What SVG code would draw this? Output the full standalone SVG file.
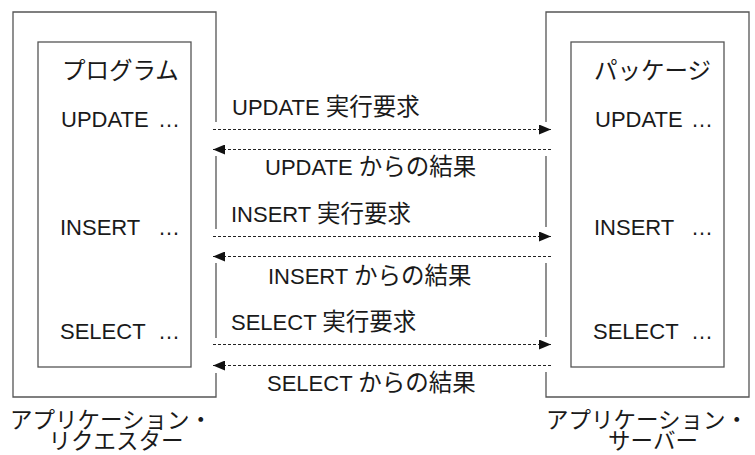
<svg xmlns="http://www.w3.org/2000/svg" width="755" height="455" viewBox="0 0 755 455">
<style>
.box{fill:none;stroke:#555;stroke-width:1.3}
.t{font-family:"Liberation Sans","Noto Sans CJK JP",sans-serif;font-size:22px;fill:#1a1a1a}
.j{font-family:"Noto Sans CJK JP",sans-serif;font-size:23.5px}
.b{font-family:"Noto Sans CJK JP",sans-serif;font-size:22.5px;fill:#1a1a1a}
.c{stroke:#222;stroke-width:1;stroke-dasharray:3 2;fill:none}
</style>
<defs>
<marker id="ah" viewBox="0 0 12 10" refX="12" refY="5" markerWidth="12" markerHeight="10" markerUnits="userSpaceOnUse" orient="auto">
<path d="M0,0 L12,5 L0,10 Z" fill="#111"/>
</marker>
</defs>
<rect width="755" height="455" fill="#fff"/>

<g id="requester">
<path class="box" d="M216,122 V12 H13 V397 H216 V373 M216,338 V263 M216,229 V156"/>
<text class="b" x="10" y="428">アプリケーション・</text>
<text class="b" x="116" y="449" text-anchor="middle">リクエスター</text>
</g>

<g id="program">
<rect class="box" x="38" y="42" width="153" height="325"/>
<text class="t j" x="62" y="79">プログラム</text>
<text class="t" x="61" y="127">UPDATE<tspan x="158">…</tspan></text>
<text class="t" x="60" y="235">INSERT<tspan x="158">…</tspan></text>
<text class="t" x="60" y="339">SELECT<tspan x="158">…</tspan></text>
</g>

<g id="server">
<path class="box" d="M546,122 V12 H749 V397 H546 V372 M546,337 V263 M546,227 V156"/>
<text class="b" x="546" y="428">アプリケーション・</text>
<text class="b" x="653" y="449" text-anchor="middle">サーバー</text>
</g>

<g id="package">
<rect class="box" x="571" y="42" width="153" height="325"/>
<text class="t j" x="594" y="79">パッケージ</text>
<text class="t" x="595" y="127">UPDATE<tspan x="691">…</tspan></text>
<text class="t" x="594" y="235">INSERT<tspan x="691">…</tspan></text>
<text class="t" x="593" y="339">SELECT<tspan x="691">…</tspan></text>
</g>

<g id="connectors">
<line class="c" x1="213" y1="129.5" x2="551" y2="129.5" marker-end="url(#ah)"/>
<line class="c" x1="551" y1="149.5" x2="213" y2="149.5" marker-end="url(#ah)"/>
<line class="c" x1="213" y1="236.5" x2="551" y2="236.5" marker-end="url(#ah)"/>
<line class="c" x1="551" y1="256.5" x2="213" y2="256.5" marker-end="url(#ah)"/>
<line class="c" x1="213" y1="344.5" x2="551" y2="344.5" marker-end="url(#ah)"/>
<line class="c" x1="551" y1="365.5" x2="213" y2="365.5" marker-end="url(#ah)"/>
<text class="t" x="232" y="115">UPDATE <tspan class="j">実行要求</tspan></text>
<text class="t" x="265" y="175">UPDATE <tspan class="j">からの結果</tspan></text>
<text class="t" x="231" y="222">INSERT <tspan class="j">実行要求</tspan></text>
<text class="t" x="268" y="284">INSERT <tspan class="j">からの結果</tspan></text>
<text class="t" x="231" y="330">SELECT <tspan class="j">実行要求</tspan></text>
<text class="t" x="267" y="391">SELECT <tspan class="j">からの結果</tspan></text>
</g>
</svg>
